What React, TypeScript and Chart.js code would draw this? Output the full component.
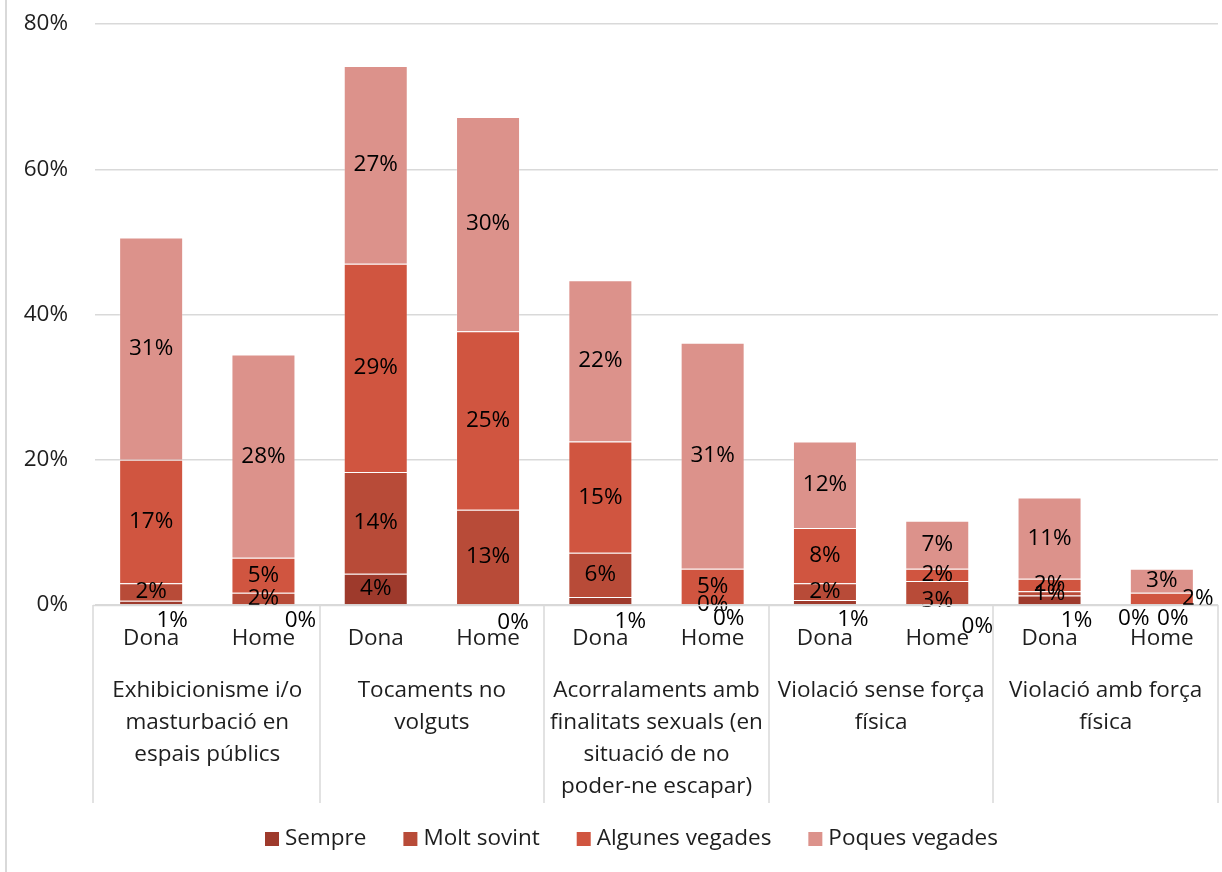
import React, { useEffect, useRef } from "react";
import { Chart, registerables } from "chart.js";
Chart.register(...registerables);

const categories = ["Dona", "Home", "Dona", "Home", "Dona", "Home", "Dona", "Home", "Dona", "Home"];
const groupLabels: string[][] = [
  ["Exhibicionisme i/o", "masturbació en", "espais públics"],
  ["Tocaments no", "volguts"],
  ["Acorralaments amb", "finalitats sexuals (en", "situació de no", "poder-ne escapar)"],
  ["Violació sense força", "física"],
  ["Violació amb força", "física"],
];
const seriesNames = ["Sempre", "Molt sovint", "Algunes vegades", "Poques vegades"];
const sempre = [0.6, 0, 4.3, 0, 1.1, 0, 0.7, 0, 1.3, 0];
const moltSovint = [2.4, 1.7, 14.0, 13.1, 6.1, 0, 2.3, 3.3, 0.6, 0];
const algunesVegades = [17.0, 4.8, 28.7, 24.6, 15.3, 5.0, 7.6, 1.7, 1.7, 1.7];
const poquesVegades = [30.6, 28.0, 27.2, 29.5, 22.2, 31.1, 11.9, 6.6, 11.2, 3.3];
const yMax = 80;
const yStep = 20;

const seriesColors = ["#9E3A2C", "#B84B38", "#D05540", "#DC928B"];
const FONT = "'Open Sans', 'Noto Sans', sans-serif";
const FONT_SIZE = 22.5;
const TEXT = "#1e1e1e";
const LINE = "#d9d9d9";

// label displacement (style only) for tiny segments, key = dataset-index
const labelOffsets: Record<string, [number, number]> = {
  "0-0": [21, 18], "0-1": [37, 16], "0-3": [25, 18], "0-4": [30, 21], "0-5": [16, 14],
  "0-6": [28, 18], "0-7": [40, 22], "0-8": [27, 21], "0-9": [11, 14],
  "1-7": [0, 8], "1-9": [-28, 14], "2-9": [36, 0],
};

const labelsPlugin = {
  id: "segLabels",
  afterDatasetsDraw(chart: any) {
    const ctx = chart.ctx;
    ctx.save();
    ctx.font = `${FONT_SIZE}px ${FONT}`;
    ctx.fillStyle = "#000";
    ctx.textAlign = "center";
    ctx.textBaseline = "middle";
    chart.data.datasets.forEach((ds: any, d: number) => {
      const meta = chart.getDatasetMeta(d);
      meta.data.forEach((el: any, i: number) => {
        const p = el.getProps(["x", "y", "base"], true);
        const off = labelOffsets[`${d}-${i}`] || [0, 0];
        const v = ds.data[i];
        ctx.fillText(`${Math.round(v)}%`, p.x + off[0], (p.y + p.base) / 2 + off[1]);
      });
    });
    ctx.restore();
  },
};

const axisPlugin = {
  id: "multiAxis",
  afterDraw(chart: any) {
    const ctx = chart.ctx;
    const { left, right, bottom } = chart.chartArea;
    const xs = chart.scales.x;
    const cw = (right - left) / categories.length;
    ctx.save();
    ctx.strokeStyle = LINE;
    ctx.lineWidth = 1.5;
    ctx.beginPath();
    ctx.moveTo(left - 2, bottom + 0.5);
    ctx.lineTo(right, bottom + 0.5);
    for (let k = 0; k <= groupLabels.length; k++) {
      const x = Math.round(left + k * 2 * cw) - (k === 0 ? 2 : 0);
      ctx.moveTo(x, bottom);
      ctx.lineTo(x, bottom + 198);
    }
    ctx.stroke();
    ctx.font = `${FONT_SIZE}px ${FONT}`;
    ctx.fillStyle = TEXT;
    ctx.textAlign = "center";
    ctx.textBaseline = "middle";
    categories.forEach((c, i) => {
      ctx.fillText(c, xs.getPixelForValue(i), bottom + 34);
    });
    groupLabels.forEach((lines, g) => {
      const cx = left + (g * 2 + 1) * cw;
      lines.forEach((ln, j) => ctx.fillText(ln, cx, bottom + 86 + j * 32));
    });
    // legend
    const ly = bottom + 234;
    let x = 265;
    ctx.textAlign = "left";
    seriesNames.forEach((n, i) => {
      ctx.fillStyle = seriesColors[i];
      ctx.fillRect(x, ly - 7, 14, 14);
      ctx.fillStyle = TEXT;
      ctx.fillText(n, x + 20, ly);
      x += 20 + ctx.measureText(n).width + 37;
    });
    ctx.restore();
  },
};

export default function App() {
  const ref = useRef<HTMLCanvasElement>(null);
  useEffect(() => {
    document.body.style.margin = "0";
    const chart = new Chart(ref.current!, {
      type: "bar",
      data: {
        labels: categories,
        datasets: [sempre, moltSovint, algunesVegades, poquesVegades].map((arr, i) => ({
          label: seriesNames[i],
          data: arr,
          backgroundColor: seriesColors[i],
          borderColor: "rgba(255,255,255,0.22)",
          borderWidth: 1,
          categoryPercentage: 1,
          barPercentage: 0.57,
        })),
      },
      options: {
        responsive: false,
        animation: false,
        layout: { padding: { top: 24, right: 4, left: 0, bottom: 0 } },
        plugins: { legend: { display: false }, tooltip: { enabled: false } },
        scales: {
          x: {
            stacked: true,
            ticks: { display: false },
            grid: { display: false },
            border: { display: false },
            afterFit: (s: any) => { s.height = 267; s.paddingLeft = 0; s.paddingRight = 0; },
          },
          y: {
            stacked: true,
            min: 0,
            max: yMax,
            ticks: {
              stepSize: yStep,
              padding: 27,
              color: TEXT,
              font: { family: FONT, size: FONT_SIZE },
              callback: (v: any) => `${v}%`,
            },
            grid: { color: LINE, drawTicks: false, lineWidth: 1.5 },
            border: { display: false },
            afterFit: (s: any) => { s.width = 95; s.paddingTop = 0; s.paddingBottom = 0; },
          },
        },
      },
      plugins: [labelsPlugin, axisPlugin],
    });
    return () => chart.destroy();
  }, []);
  return (
    <div style={{ position: "relative", width: 1222, height: 872, overflow: "hidden", background: "#fff" }}>
      <div style={{ position: "absolute", left: 5, top: -2, width: 1240, height: 880, border: `2px solid ${LINE}`, boxSizing: "border-box" }} />
      <canvas ref={ref} width={1222} height={872} style={{ position: "absolute", left: 0, top: 0 }} />
    </div>
  );
}
